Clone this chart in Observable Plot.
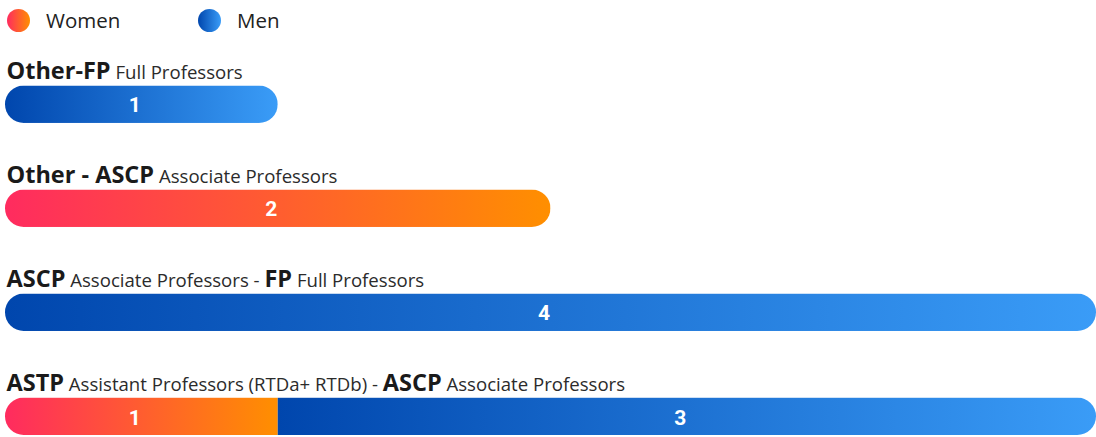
<!DOCTYPE html>
<html>
<head>
<meta charset="utf-8">
<script src="https://cdn.jsdelivr.net/npm/d3@7"></script>
<script src="https://cdn.jsdelivr.net/npm/@observablehq/plot@0.6"></script>
<style>
  html, body { margin: 0; padding: 0; background: #fff; }
  body { width: 1096px; font-family: "Open Sans", Lato, sans-serif; color: #222; }
  .legend { height: 42px; position: relative; }
  .legend .item { position: absolute; top: 8px; display: flex; align-items: center; font-size: 20.5px; line-height: 24px; }
  .legend .dot { width: 23px; height: 23px; border-radius: 50%; margin-right: 16px; }
</style>
</head>
<body>
<div class="legend" id="legend"></div>
<div id="chart"></div>
<script>
// Transitions between academic roles, split by gender
const rows = ["Other-FP", "Other - ASCP", "ASCP - FP", "ASTP - ASCP"];
const women = [0, 2, 0, 1];
const men = [1, 0, 4, 3];
const genders = ["Women", "Men"];
// Row captions: [text, bold?]
const captions = [
  [["Other-FP", true], [" Full Professors", false]],
  [["Other - ASCP", true], [" Associate Professors", false]],
  [["ASCP", true], [" Associate Professors - ", false], ["FP", true], [" Full Professors", false]],
  [["ASTP", true], [" Assistant Professors (RTDa+ RTDb) - ", false], ["ASCP", true], [" Associate Professors", false]]
];
const gradients = {
  Women: ["#ff2b5f", "#ff8f00"],
  Men: ["#0046ad", "#3a9cf7"]
};

// Legend
const legend = document.getElementById("legend");
genders.forEach((g, i) => {
  const item = document.createElement("div");
  item.className = "item";
  item.style.left = (i === 0 ? 7 : 198) + "px";
  const dot = document.createElement("div");
  dot.className = "dot";
  dot.style.background = `linear-gradient(to right, ${gradients[g][0]}, ${gradients[g][1]})`;
  item.appendChild(dot);
  item.appendChild(document.createTextNode(g));
  legend.appendChild(item);
});

const data = rows.flatMap((row, i) => [
  {row, gender: "Women", value: women[i]},
  {row, gender: "Men", value: men[i]}
]).filter(d => d.value > 0);

const captionData = rows.map((row, i) => ({row, parts: captions[i]}));

const gradId = g => `grad-${g.toLowerCase()}`;

const chart = Plot.plot({
  width: 1096,
  height: 395,
  marginLeft: 5,
  marginRight: 0,
  marginTop: 0,
  marginBottom: 0,
  style: {fontFamily: "'Open Sans', Lato, sans-serif", background: "#fff", overflow: "visible"},
  x: {domain: [0, 4], range: [5, 1096], axis: null},
  y: {domain: rows, range: [43.5, 393], paddingInner: 0.64, paddingOuter: 0, round: false, axis: null},
  color: {type: "identity"},
  marks: [
    Plot.barX(data, Plot.stackX({
      y: "row",
      x: "value",
      fill: d => `url(#${gradId(d.gender)})`,
      order: null,
      render(index, scales, values, dimensions, context, next) {
        const g = next(index, scales, values, dimensions, context);
        // Round only the outer ends of each row by clipping to the row's full extent
        const rects = Array.from(g.querySelectorAll("rect"));
        const byRow = d3.group(rects, r => r.getAttribute("y"));
        const defs = d3.create("svg:defs");
        let k = 0;
        for (const [y, rs] of byRow) {
          const x0 = d3.min(rs, r => +r.getAttribute("x"));
          const x1 = d3.max(rs, r => +r.getAttribute("x") + +r.getAttribute("width"));
          const h = +rs[0].getAttribute("height");
          const id = `row-clip-${k++}`;
          defs.append("clipPath").attr("id", id)
            .append("rect")
            .attr("x", x0).attr("y", y).attr("width", x1 - x0).attr("height", h)
            .attr("rx", h / 2).attr("ry", h / 2);
          rs.forEach(r => r.setAttribute("clip-path", `url(#${id})`));
        }
        g.insertBefore(defs.node(), g.firstChild);
        return g;
      }
    })),
    Plot.text(data, Plot.stackX({
      y: "row",
      x: "value",
      text: d => String(d.value),
      order: null,
      fill: "white",
      fontSize: 21,
      fontWeight: 700,
      fontFamily: "Roboto, sans-serif",
      dx: -7,
      dy: 1
    })),
    Plot.text(captionData, {
      y: "row",
      x: 0,
      text: d => d.parts.map(p => p[0]).join(""),
      textAnchor: "start",
      lineAnchor: "bottom",
      dy: -25.5,
      dx: 1,
      fill: "#222",
      render(index, scales, values, dimensions, context, next) {
        const g = next(index, scales, values, dimensions, context);
        const texts = g.querySelectorAll("text");
        texts.forEach((t, j) => {
          const parts = captionData[index[j]].parts;
          t.textContent = "";
          parts.forEach(([s, bold]) => {
            const ts = document.createElementNS("http://www.w3.org/2000/svg", "tspan");
            ts.textContent = s;
            ts.setAttribute("font-size", bold ? 23.5 : 18.6);
            ts.setAttribute("font-weight", bold ? 700 : 400);
            ts.setAttribute("fill", bold ? "#1a1a1a" : "#2b2b2b");
            ts.setAttribute("style", "white-space: pre");
            t.appendChild(ts);
          });
        });
        return g;
      }
    })
  ]
});

// Left-to-right gradients, applied per segment
const defs = d3.create("svg:defs");
for (const g of genders) {
  const lg = defs.append("linearGradient").attr("id", gradId(g))
    .attr("x1", 0).attr("x2", 1).attr("y1", 0).attr("y2", 0);
  lg.append("stop").attr("offset", 0).attr("stop-color", gradients[g][0]);
  lg.append("stop").attr("offset", 1).attr("stop-color", gradients[g][1]);
}
chart.insertBefore(defs.node(), chart.firstChild);

document.getElementById("chart").appendChild(chart);
</script>
</body>
</html>
